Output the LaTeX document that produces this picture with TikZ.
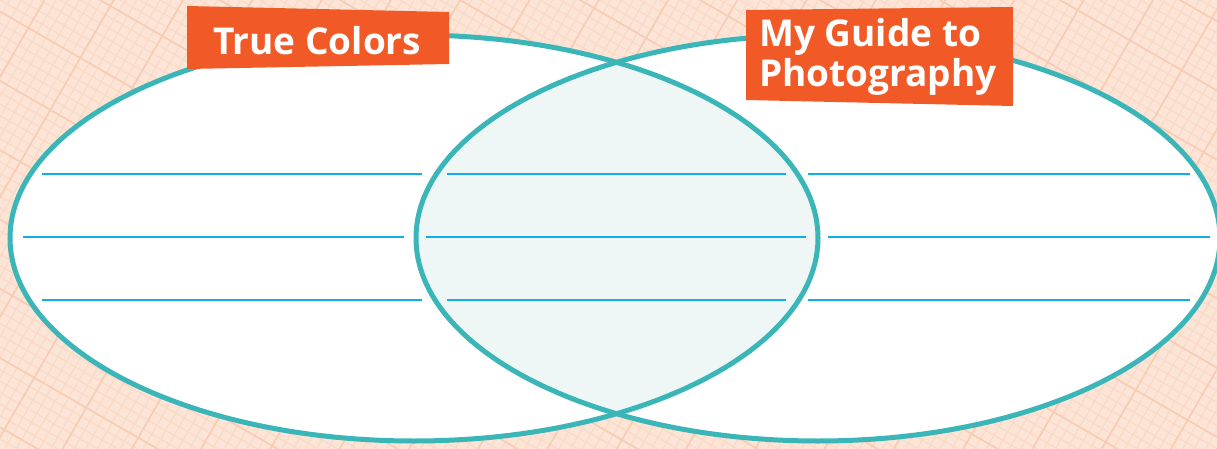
\documentclass[tikz,border=0pt]{standalone}
\usepackage{fontspec}
\usepackage{xcolor}
\usepackage{tikz}
\usetikzlibrary{calc,positioning}
\newfontfamily\labelfont{Open Sans}
\definecolor{paperc}{HTML}{FCE4D6}
\definecolor{finegc}{HTML}{FAD8C4}
\definecolor{coarsegc}{HTML}{F8CCB2}
\definecolor{tealc}{HTML}{3BB6B8}
\definecolor{overlapc}{HTML}{EEF7F6}
\definecolor{rulec}{HTML}{12AEEA}
\definecolor{tagc}{HTML}{F15A26}
\tikzset{
  ring/.style={draw=tealc,line width=5pt},
  rule/.style={draw=rulec,line width=2pt},
  tag/.style={fill=tagc},
  tagtxt/.style={text=white,font=\labelfont\bfseries\fontsize{37}{40}\selectfont,inner sep=0pt,anchor=base west}
}

\begin{document}
\begin{tikzpicture}[x=1pt,y=-1pt]
\useasboundingbox (0,0) rectangle (1217,449);
\fill[paperc] (0,0) rectangle (1217,449);
% graph paper
\begin{scope}
\clip (0,0) rectangle (1217,449);
\begin{scope}[shift={(608,224)},rotate=-30]
\draw[finegc,line width=1pt,step=10pt] (-1000pt,-1000pt) grid (1000pt,1000pt);
\draw[coarsegc,line width=1.6pt,step=60pt] (-1020pt,-1020pt) grid (1020pt,1020pt);
\end{scope}
\end{scope}
% sets
\fill[white] (414,238) ellipse [x radius=404,y radius=203];
\fill[white] (818,238) ellipse [x radius=402,y radius=203];
\begin{scope}
\clip (414,238) ellipse [x radius=404,y radius=203];
\fill[overlapc] (818,238) ellipse [x radius=402,y radius=203];
\end{scope}
% writing lines
\foreach \y/\a/\b in {174/42/422,237/23/404,300/42/422}
  \draw[rule] (\a,\y) -- (\b,\y);
\foreach \y/\a/\b in {174/447/786,237/426/806,300/447/786}
  \draw[rule] (\a,\y) -- (\b,\y);
\foreach \y/\a/\b in {174/808/1190,237/828/1210,300/808/1190}
  \draw[rule] (\a,\y) -- (\b,\y);
\draw[ring] (414,238) ellipse [x radius=404,y radius=203];
\draw[ring] (818,238) ellipse [x radius=402,y radius=203];
% labels
\fill[tag] (187,6) -- (449,12) -- (449,64) -- (187,69) -- cycle;
\node[tagtxt] (truec) at (213,55) {True Colors};
\fill[tag] (746,10) -- (1013,7) -- (1013,106) -- (746,100) -- cycle;
\node[tagtxt] (guide) at (759,47) {My Guide to};
\node[tagtxt] (photo) at (759,87) {Photography};
\end{tikzpicture}
\end{document}
